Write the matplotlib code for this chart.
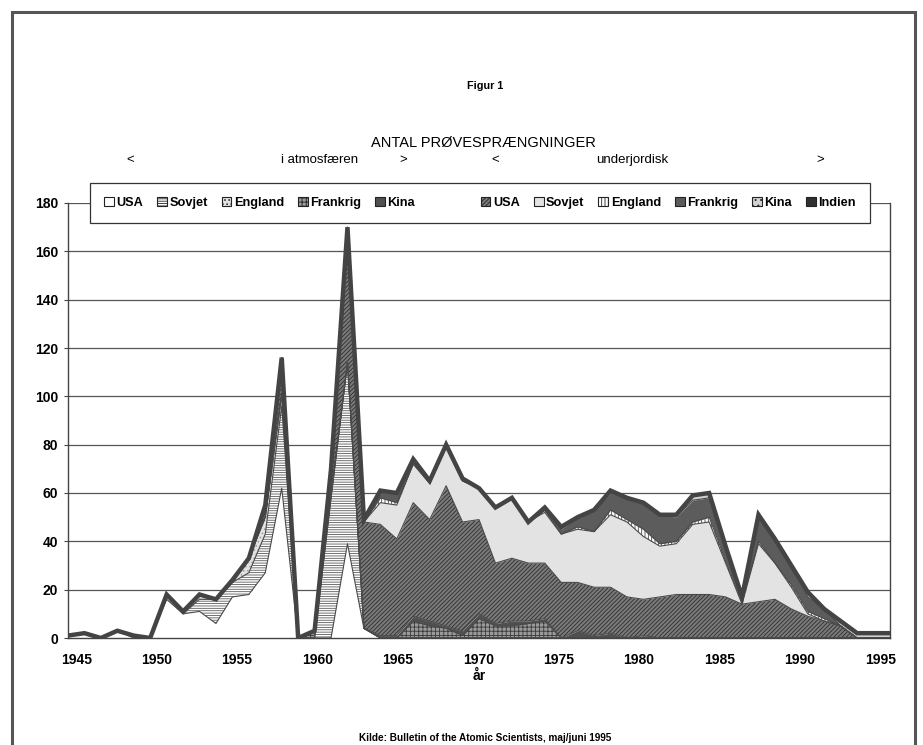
import matplotlib
matplotlib.use("Agg")
import matplotlib.pyplot as plt
from matplotlib.patches import Patch, Rectangle
import numpy as np

plt.rcParams['font.family'] = ['Liberation Sans', 'DejaVu Sans']
plt.rcParams['hatch.linewidth'] = 0.6

years = list(range(1945, 1996))

#                1945-49       1950-54        1955-59         1960-64         1965-69          1970-74          1975-79          1980-84          1985-89         1990-94      1995
usa_atm      = [1, 2, 0, 3, 0, 0, 16, 10, 11, 6, 17, 18, 27, 62, 0, 0, 0, 39, 4, 0, 0, 0, 0, 0, 0, 0, 0, 0, 0, 0, 0, 0, 0, 0, 0, 0, 0, 0, 0, 0, 0, 0, 0, 0, 0, 0, 0, 0, 0, 0, 0]
sovjet_atm   = [0, 0, 0, 0, 1, 0, 2, 0, 5, 10, 6, 9, 16, 34, 0, 0, 58, 75, 0, 0, 0, 0, 0, 0, 0, 0, 0, 0, 0, 0, 0, 0, 0, 0, 0, 0, 0, 0, 0, 0, 0, 0, 0, 0, 0, 0, 0, 0, 0, 0, 0]
england_atm  = [0, 0, 0, 0, 0, 0, 0, 1, 2, 0, 0, 6, 7, 5, 0, 0, 0, 0, 0, 0, 0, 0, 0, 0, 0, 0, 0, 0, 0, 0, 0, 0, 0, 0, 0, 0, 0, 0, 0, 0, 0, 0, 0, 0, 0, 0, 0, 0, 0, 0, 0]
frankrig_atm = [0, 0, 0, 0, 0, 0, 0, 0, 0, 0, 0, 0, 0, 0, 0, 3, 1, 0, 0, 0, 0, 7, 5, 4, 1, 8, 5, 5, 6, 7, 0, 0, 0, 0, 0, 0, 0, 0, 0, 0, 0, 0, 0, 0, 0, 0, 0, 0, 0, 0, 0]
kina_atm     = [0, 0, 0, 0, 0, 0, 0, 0, 0, 0, 0, 0, 0, 0, 0, 0, 0, 0, 0, 1, 1, 2, 2, 1, 2, 2, 1, 2, 1, 1, 0, 3, 1, 2, 0, 1, 0, 0, 0, 0, 0, 0, 0, 0, 0, 0, 0, 0, 0, 0, 0]
usa_ug       = [0, 0, 0, 0, 0, 0, 0, 0, 0, 0, 1, 0, 5, 15, 0, 0, 10, 52, 44, 46, 40, 47, 42, 58, 45, 39, 25, 26, 24, 23, 23, 20, 20, 19, 17, 15, 17, 18, 18, 18, 17, 14, 15, 16, 12, 9, 7, 5, 0, 0, 0]
sovjet_ug    = [0, 0, 0, 0, 0, 0, 0, 0, 0, 0, 0, 0, 0, 0, 0, 0, 0, 1, 0, 9, 14, 16, 15, 16, 17, 13, 23, 25, 17, 21, 20, 22, 23, 30, 31, 26, 21, 21, 29, 30, 14, 0, 24, 15, 9, 1, 0, 0, 0, 0, 0]
england_ug   = [0, 0, 0, 0, 0, 0, 0, 0, 0, 0, 0, 0, 0, 0, 0, 0, 0, 2, 0, 2, 1, 0, 0, 0, 0, 0, 0, 0, 0, 1, 0, 1, 0, 2, 1, 3, 1, 1, 1, 2, 1, 1, 1, 0, 1, 1, 1, 0, 0, 0, 0]
frankrig_ug  = [0, 0, 0, 0, 0, 0, 0, 0, 0, 0, 0, 0, 0, 0, 0, 0, 1, 1, 1, 3, 4, 2, 1, 1, 0, 0, 0, 0, 0, 0, 2, 4, 9, 7, 9, 11, 12, 10, 9, 8, 6, 2, 10, 9, 8, 6, 4, 0, 0, 0, 0]
kina_ug      = [0, 0, 0, 0, 0, 0, 0, 0, 0, 0, 0, 0, 0, 0, 0, 0, 0, 0, 0, 0, 0, 0, 0, 0, 1, 0, 0, 0, 0, 0, 1, 0, 0, 1, 0, 0, 0, 1, 2, 2, 0, 0, 1, 1, 0, 2, 0, 2, 2, 2, 2]
indien_ug    = [0, 0, 0, 0, 0, 0, 0, 0, 0, 0, 0, 0, 0, 0, 0, 0, 0, 0, 0, 0, 0, 0, 0, 0, 0, 0, 0, 0, 0, 1, 0, 0, 0, 0, 0, 0, 0, 0, 0, 0, 0, 0, 0, 0, 0, 0, 0, 0, 0, 0, 0]

series = [usa_atm, sovjet_atm, england_atm, frankrig_atm, kina_atm,
          usa_ug, sovjet_ug, england_ug, frankrig_ug, kina_ug, indien_ug]
labels = ['USA', 'Sovjet', 'England', 'Frankrig', 'Kina',
          'USA', 'Sovjet', 'England', 'Frankrig', 'Kina', 'Indien']
# (facecolor, hatch, hatchcolor)
styles = [
    ('white', None, '#444444'),
    ('white', '-------', '#5a5a5a'),
    ('#e2e2e2', '....', '#9a9a9a'),
    ('#9a9a9a', '++++', '#3a3a3a'),
    ('#505050', None, '#505050'),
    ('#7a7a7a', '////////', '#2e2e2e'),
    ('#e3e3e3', None, '#e3e3e3'),
    ('white', '|||||', '#444444'),
    ('#5c5c5c', None, '#5c5c5c'),
    ('#d2d2d2', '...', '#a0a0a0'),
    ('#303030', None, '#303030'),
]

fig = plt.figure(figsize=(9.23, 7.45), dpi=100)
ax = fig.add_axes([68 / 923, 1 - 638 / 745, 822 / 923, 435 / 745])

x = np.array(years, dtype=float)
data = np.array(series, dtype=float)
cum = np.vstack([np.zeros(len(years)), np.cumsum(data, axis=0)])

for i, (fc, hatch, hc) in enumerate(styles):
    ax.fill_between(x, cum[i], cum[i + 1], facecolor=fc, hatch=hatch,
                    edgecolor=hc, linewidth=0, zorder=2)
for i in range(1, len(series)):
    ax.plot(x, cum[i], color='#4a4a4a', lw=0.8, zorder=3)
ax.plot(x, cum[-1], color='#444444', lw=3.2, zorder=4, solid_joinstyle='miter')

ax.set_xlim(1945, 1995)
ax.set_ylim(0, 180)
ax.set_yticks(range(0, 181, 20))
ax.yaxis.grid(True, color='#555555', lw=0.9, zorder=0)
ax.set_axisbelow(True)
tick_years = list(range(1945, 1996, 5))
tick_pos = [yv + 0.5 - (yv - 1945) * 0.022 for yv in tick_years]
ax.set_xticks(tick_pos)
ax.set_xticklabels([str(t) for t in tick_years])
ax.tick_params(axis='x', length=0, pad=11, labelsize=10)
ax.tick_params(axis='y', length=3, pad=4, labelsize=10, color='#444444', direction='out')
for lab in ax.get_xticklabels() + ax.get_yticklabels():
    lab.set_fontweight('bold')
for s in ['left', 'right', 'bottom']:
    ax.spines[s].set_color('#444444')
    ax.spines[s].set_linewidth(1.0)
ax.spines['top'].set_visible(False)
ax.set_xlabel('år', fontsize=10, fontweight='bold', labelpad=1)

# legend
handles = []
for (fc, hatch, hc) in styles[:5]:
    handles.append(Patch(facecolor=fc, hatch=hatch, edgecolor='#222222', lw=0.8))
handles.append(Patch(facecolor='none', edgecolor='none'))
for (fc, hatch, hc) in styles[5:]:
    handles.append(Patch(facecolor=fc, hatch=hatch, edgecolor='#222222', lw=0.8))
leg_labels = labels[:5] + ['\u2003' * 2] + labels[5:]
leg = fig.legend(handles, leg_labels, loc='upper left',
                 bbox_to_anchor=(90 / 923, 1 - 183 / 745), ncol=12,
                 frameon=True, fancybox=False, edgecolor='#333333', framealpha=1,
                 prop={'size': 9.2, 'weight': 'bold'}, handlelength=0.75, handleheight=0.75,
                 handletextpad=0.2, columnspacing=1.1, borderpad=1.1, borderaxespad=0)
leg.get_frame().set_linewidth(0.9)

# texts
fig.text(485 / 923, 1 - 86 / 745, 'Figur 1', ha='center', va='center', fontsize=7.8, fontweight='bold')
fig.text(483 / 923, 1 - 143 / 745, 'ANTAL PRØVESPRÆNGNINGER', ha='center', va='center', fontsize=10.5)
for (px, t) in [(130, '<'), (320, 'i atmosfæren'), (403, '>'), (495, '<'), (632, 'underjordisk'), (820, '>')]:
    fig.text(px / 923, 1 - 160 / 745, t, ha='center', va='center', fontsize=9.5)
fig.text(485 / 923, 1 - 738 / 745, 'Kilde: Bulletin of the Atomic Scientists, maj/juni 1995',
         ha='center', va='center', fontsize=7.2, fontweight='bold')

# page border
fig.add_artist(Rectangle((12 / 923, -0.02), (915 - 12) / 923, 1 - 12 / 745 + 0.02,
                         transform=fig.transFigure, fill=False, ec='#555555', lw=2.2))

fig.savefig('out.png', dpi=100)
